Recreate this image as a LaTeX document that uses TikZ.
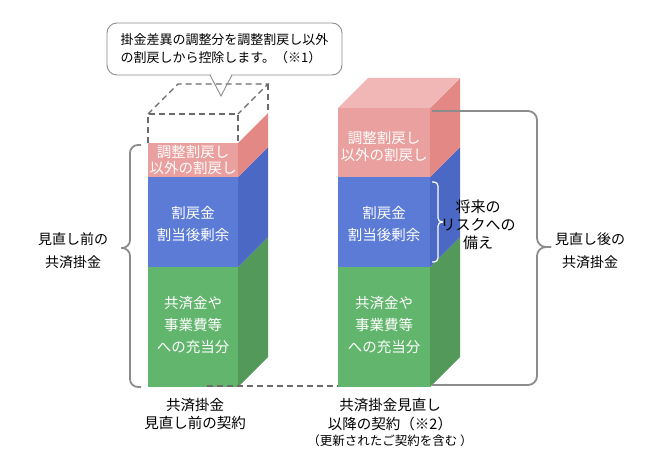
\documentclass[tikz,border=0pt]{standalone}
\usepackage{fontspec}
\usetikzlibrary{positioning}
\setmainfont{Noto Sans CJK JP}
\definecolor{pinkfront}{HTML}{E9A09E}
\definecolor{pinkside}{HTML}{E38884}
\definecolor{pinktop}{HTML}{F1B7B6}
\definecolor{bluefront}{HTML}{5B7BD6}
\definecolor{blueside}{HTML}{4B69C4}
\definecolor{greenfront}{HTML}{62B56D}
\definecolor{greenside}{HTML}{52995A}
\definecolor{bracegray}{HTML}{8C8C8C}
\definecolor{dashgray}{HTML}{6A6A6A}
\tikzset{
  bartext/.style={text=white, align=center, font=\fontsize{14.5}{22}\selectfont},
  sidetext/.style={text=black, align=center, font=\fontsize{14}{23}\selectfont},
  bracket/.style={draw=bracegray, line width=1.8pt, rounded corners=9pt},
  ghost/.style={draw=dashgray, dash pattern=on 6pt off 4pt, line width=1.1pt},
}
\begin{document}
\begin{tikzpicture}[x=1pt, y=-1pt]
  \useasboundingbox (0,0) rectangle (670,460);

  % left bar
  \fill[greenfront] (148,267) rectangle (238,387);
  \fill[greenside] (238,267) -- (268,237) -- (268,357) -- (238,387) -- cycle;
  \fill[bluefront] (148,177) rectangle (238,267);
  \fill[blueside] (238,177) -- (268,147) -- (268,237) -- (238,267) -- cycle;
  \fill[pinkfront] (148,143) rectangle (238,177);
  \fill[pinkside] (238,143) -- (268,113) -- (268,147) -- (238,177) -- cycle;
  \draw[ghost] (148,143) -- (148,114) -- (238,114) -- (238,143);
  \draw[ghost] (148,114) -- (178,84) -- (268,84) -- (238,114);
  \draw[ghost] (268,84) -- (268,113);

  % right bar
  \fill[greenfront] (338,267) rectangle (430,387);
  \fill[greenside] (430,267) -- (460,237) -- (460,357) -- (430,387) -- cycle;
  \fill[bluefront] (338,177) rectangle (430,267);
  \fill[blueside] (430,177) -- (460,147) -- (460,237) -- (430,267) -- cycle;
  \fill[pinkfront] (338,108) rectangle (430,177);
  \fill[pinkside] (430,108) -- (460,78) -- (460,147) -- (430,177) -- cycle;
  \fill[pinktop] (338,108) -- (368,78) -- (460,78) -- (430,108) -- cycle;

  % level line
  \draw[ghost] (207,386) -- (338,386);

  % texts in the bars
  \node[bartext, font=\fontsize{14.5}{15.5}\selectfont] (pinkL) at (193,160) {調整割戻し\\以外の割戻し};
  \node[bartext] (blueL) at (193,224) {割戻金\\割当後剰余};
  \node[bartext] (greenL) at (193,325) {共済金や\\事業費等\\への充当分};
  \node[bartext, font=\fontsize{14.5}{17}\selectfont] (pinkR) at (384,146.5) {調整割戻し\\以外の割戻し};
  \node[bartext] (blueR) at (384,224) {割戻金\\割当後剰余};
  \node[bartext] (greenR) at (384,325) {共済金や\\事業費等\\への充当分};

  % braces
  \draw[bracket, rounded corners=8pt] (141,145) -- (130,145) -- (130,248) -- (121,248);
  \draw[bracket, rounded corners=8pt] (121,248) -- (130,248) -- (130,387) -- (141,387);
  \draw[bracket] (432,111) -- (537,111) -- (537,247) -- (551,247);
  \draw[bracket] (551,247) -- (537,247) -- (537,385) -- (432,385);
  \draw[white, line width=1.2pt, rounded corners=4pt] (432,182) -- (438,182) -- (438,222) -- (443,222);
  \draw[white, line width=1.2pt, rounded corners=4pt] (443,222) -- (438,222) -- (438,262) -- (432,262);

  % side labels
  \node[sidetext] (before) at (73,251) {見直し前の\\共済掛金};
  \node[sidetext] (after) at (590,251) {見直し後の\\共済掛金};
  \node[sidetext, font=\fontsize{15}{18}\selectfont] (risk) at (478,225) {将来の\\リスクへの\\備え};

  % bottom labels
  \node[sidetext, font=\fontsize{14.5}{18.5}\selectfont] (oldc) at (195,414) {共済掛金\\見直し前の契約};
  \node[sidetext, font=\fontsize{14.5}{19}\selectfont, anchor=north] (newc) at (390,395) {共済掛金見直し\\以降の契約（※2）};
  \node[sidetext, font=\fontsize{12.5}{14}\selectfont, below=-3pt of newc] (renew) {（更新されたご契約を含む ）};

  % callout
  \node[draw=bracegray, line width=0.9pt, fill=white, rounded corners=10pt,
        minimum width=235pt, minimum height=52pt, align=left,
        font=\fontsize{13}{18}\selectfont] (note) at (224.5,49)
        {掛金差異の調整分を調整割戻し以外\\の割戻しから控除します。（※1）};
  \fill[white] (211,72) rectangle (231,77);
  \draw[draw=bracegray, line width=0.9pt] (210,75) -- (221,96) -- (232,75);
\end{tikzpicture}
\end{document}
